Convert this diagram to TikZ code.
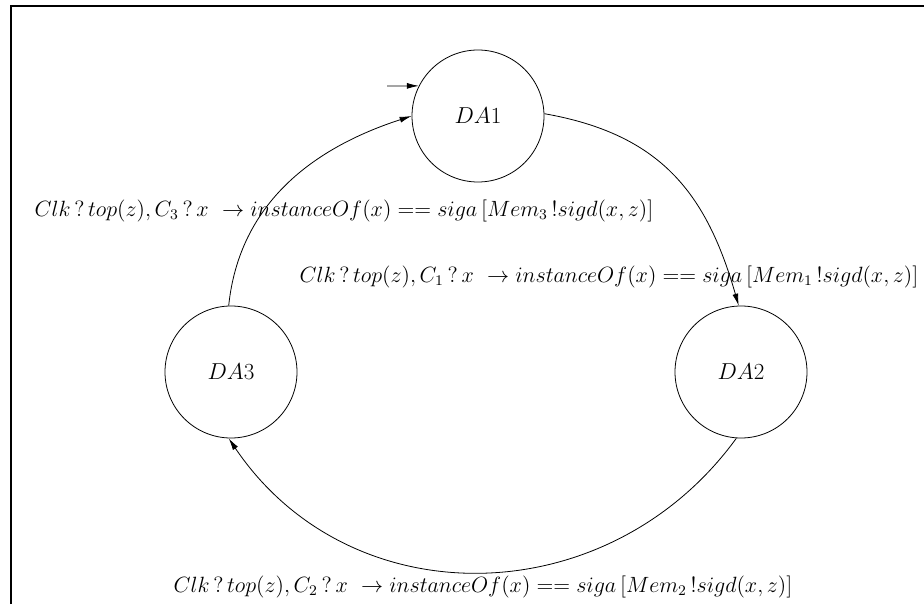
\documentclass[tikz,border=0pt,12pt]{standalone}
\usetikzlibrary{arrows.meta}

\tikzset{
    state/.style={draw, circle, minimum size=99pt, inner sep=0pt, line width=0.6pt, font=\Large},
    trans/.style={line width=0.6pt, -{Latex[length=9pt,width=4.5pt]}},
    guard/.style={scale=1.38, transform shape}
}

\begin{document}
\begin{tikzpicture}[x=0.75pt, y=0.75pt]
    \useasboundingbox (0,0) rectangle (924,604);

    % Frame
    \draw[line width=2pt] (11,0) -- (11,598) -- (924,598);

    % States
    \node[state] (DA1) at (478,488) {$DA1$};
    \node[state] (DA2) at (741,232) {$DA2$};
    \node[state] (DA3) at (231,232) {$DA3$};

    % Initial arrow
    \coordinate (start) at (387,518);
    \draw[trans] (start) -- (DA1.153);

    % Transitions
    \draw[trans] (DA1.2) to[out=-10, in=106, looseness=1.1] (DA2.92);
    \draw[trans] (DA2.266) to[out=234, in=304, looseness=1.1] (DA3.268);
    \draw[trans] (DA3.92) to[out=84, in=198] (DA1.180);

    % Labels
    \node[guard] (lab1) at (609,327) {$Clk\,?\,top(z), C_1\,?\,x\ \rightarrow instanceOf(x) == siga\,[Mem_1\,!sigd(x,z)]$};
    \node[guard] (lab2) at (483,17) {$Clk\,?\,top(z), C_2\,?\,x\ \rightarrow instanceOf(x) == siga\,[Mem_2\,!sigd(x,z)]$};
    \node[guard] (lab3) at (344,393) {$Clk\,?\,top(z), C_3\,?\,x\ \rightarrow instanceOf(x) == siga\,[Mem_3\,!sigd(x,z)]$};

\end{tikzpicture}
\end{document}
